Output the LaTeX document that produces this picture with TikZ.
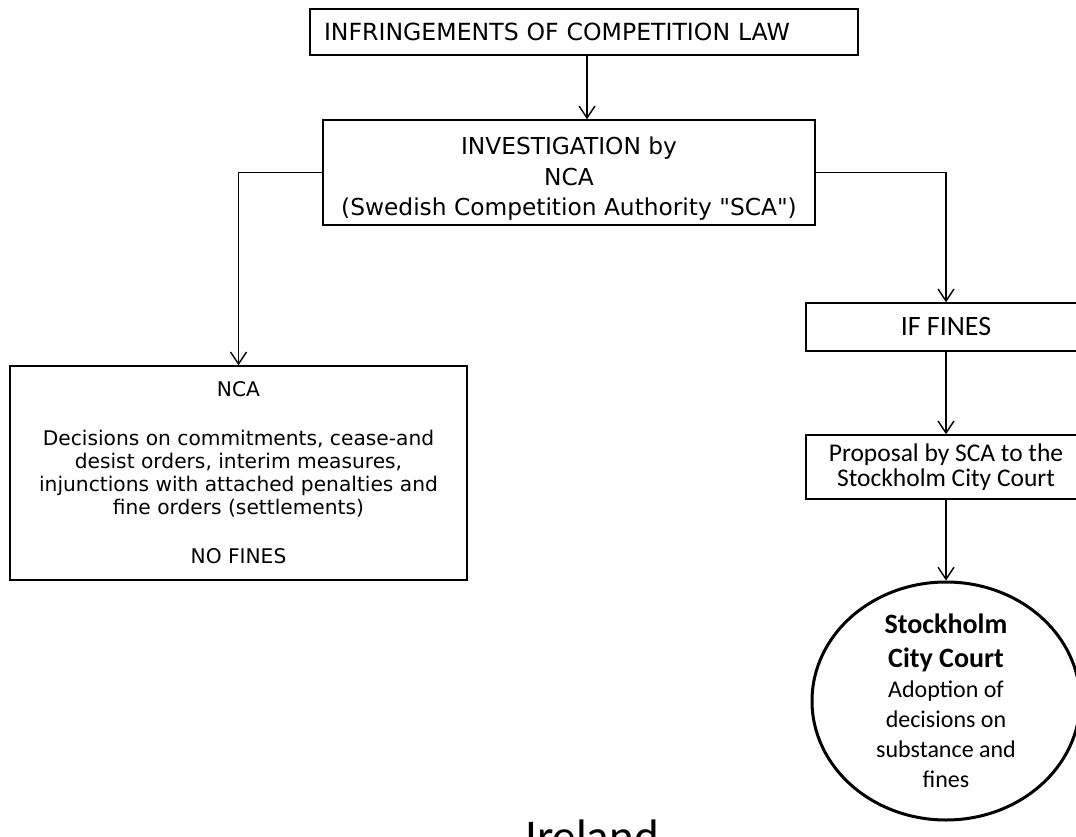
\documentclass[tikz,border=0pt]{standalone}
\usepackage{fontspec}
\setmainfont{DejaVu Sans}[Ligatures=TeXOff]
\newfontfamily\calib{Carlito}
\usetikzlibrary{calc, shapes.geometric, arrows.meta}

\begin{document}
\begin{tikzpicture}[x=1pt, y=-1pt]
	\tikzstyle{box}=[draw, line width=1.5pt, inner sep=0pt, align=center]
	\tikzstyle{arrow}=[line width=1.4pt, -{Straight Barb[length=12pt, width=16pt, line width=1.4pt]}]
	\def\rx{946};
	\def\ax{587};

	\useasboundingbox (0,0) rectangle (1076,837);

	\begin{scope}
		\node [box, minimum width=548, minimum height=46, text width=520, align=left, font=\fontsize{23.6}{28}\selectfont] (infr) at (584,32) {INFRINGEMENTS OF COMPETITION LAW};
		\node [box, minimum width=492, minimum height=105, font=\fontsize{23.3}{30.5}\selectfont] (invest) at (569,172.5) {\rule{0pt}{30pt}INVESTIGATION by\\NCA\\(Swedish Competition Authority "SCA")};
	\end{scope}

	\begin{scope}
		\node [box, minimum width=457, minimum height=214, font=\fontsize{20.2}{23}\selectfont] (nca) at (238.5,473) {NCA\\[26pt]Decisions on commitments, cease-and\\desist orders, interim measures,\\injunctions with attached penalties and\\fine orders (settlements)\\[26pt]NO FINES};
	\end{scope}

	\begin{scope}
		\node [box, minimum width=280, minimum height=48, font=\calib\fontsize{28}{30}\selectfont] (fines) at (\rx,327) {IF FINES};
		\node [box, minimum width=280, minimum height=64, font=\calib\fontsize{25.5}{25}\selectfont] (prop) at (\rx,467) {Proposal by SCA to the\\Stockholm City Court};
		\node [ellipse, draw, line width=3pt, minimum width=268, minimum height=238, inner xsep=0pt, inner ysep=-16pt, align=center, font=\calib\fontsize{24}{30}\selectfont] (court) at (\rx,701) {\textbf{\fontsize{28}{30}\selectfont Stockholm}\\[4pt]\textbf{\fontsize{28}{30}\selectfont City Court}\\Adoption of\\decisions on\\substance and\\fines};
	\end{scope}

	\begin{scope}
		\coordinate (drop) at (\ax,0);
		\draw [arrow] (infr.south -| drop) -- (invest.north -| drop);
		\draw [arrow] (invest.west) -| (nca.north);
		\draw [arrow] (invest.east) -| (fines.north);
		\draw [arrow] (fines.south) -- (prop.north);
		\draw [arrow] (prop.south) -- (court.north);
	\end{scope}

	\node [font=\calib\fontsize{47}{47}\selectfont, anchor=base] (irl) at (592,852) {Ireland};
\end{tikzpicture}
\end{document}
